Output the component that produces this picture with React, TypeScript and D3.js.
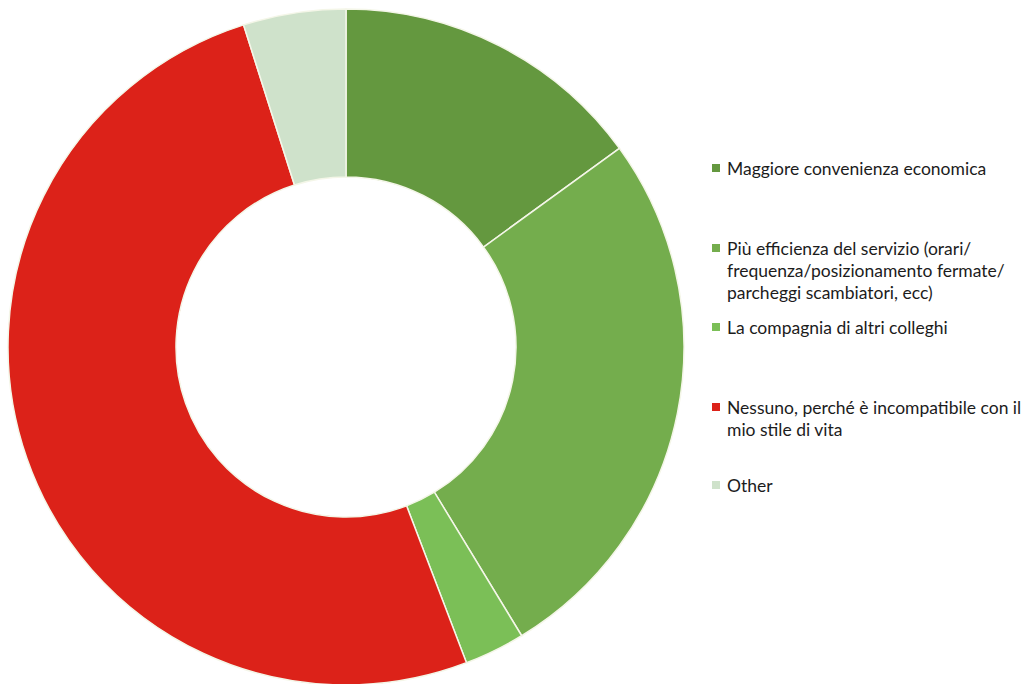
import React from "react";
import * as d3 from "d3";

const categories = [
  "Maggiore convenienza economica",
  "Più efficienza del servizio (orari/frequenza/posizionamento fermate/parcheggi scambiatori, ecc)",
  "La compagnia di altri colleghi",
  "Nessuno, perché è incompatibile con il mio stile di vita",
  "Other",
];
const values = [15.0, 26.3, 2.9, 50.9, 4.9];
const colors = ["#64983f", "#74ad4d", "#7bbf57", "#dc2219", "#cfe2cb"];
const legendLines = [
  ["Maggiore convenienza economica"],
  ["Più efficienza del servizio (orari/", "frequenza/posizionamento fermate/", "parcheggi scambiatori, ecc)"],
  ["La compagnia di altri colleghi"],
  ["Nessuno, perché è incompatibile con il", "mio stile di vita"],
  ["Other"],
];
const legendY = [168, 248, 327, 407, 485];

export default function App() {
  const W = 1024, H = 684;
  const cx = 346, cy = 347, R = 338, r = 170;
  const pie = d3.pie<number>().sort(null).value((d) => d).startAngle(0).endAngle(2 * Math.PI);
  const arcs = pie(values);
  const arc = d3.arc<d3.PieArcDatum<number>>().innerRadius(r).outerRadius(R);
  return (
    <svg width={W} height={H} style={{ position: "absolute", left: 0, top: 0, background: "#fff" }}>
      <g transform={`translate(${cx},${cy})`}>
        {arcs.map((a, i) => (
          <path key={i} d={arc(a) || ""} fill={colors[i]} stroke="#f4f6e8" strokeWidth={1.5} />
        ))}
      </g>
      <g fontFamily="Lato, 'Open Sans', sans-serif" fontSize={17.5} fill="#1c1c1c">
        {legendLines.map((lines, i) => (
          <g key={i}>
            <rect x={712} y={legendY[i] - 4} width={8} height={8} fill={colors[i]} />
            {lines.map((t, j) => (
              <text key={j} x={727} y={legendY[i] + j * 22} dominantBaseline="central">
                {t}
              </text>
            ))}
          </g>
        ))}
      </g>
    </svg>
  );
}
